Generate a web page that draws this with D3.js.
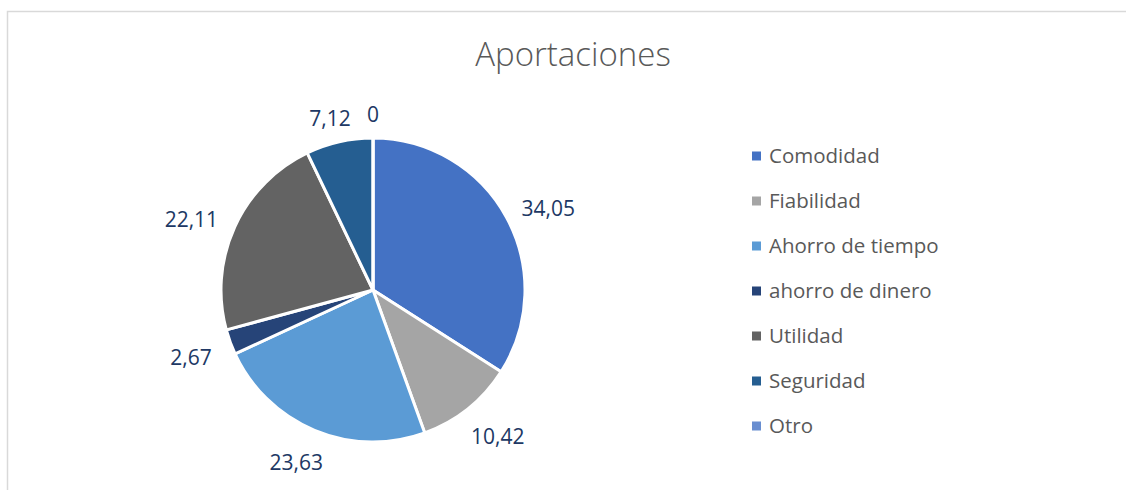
<!DOCTYPE html>
<html>
<head>
<meta charset="utf-8">
<script src="https://cdn.jsdelivr.net/npm/d3@7"></script>
<style>
  body { margin: 0; background: #fff; }
  text { font-family: "Open Sans", sans-serif; }
</style>
</head>
<body>
<svg width="1126" height="490"></svg>
<script>
// data
var categories = ["Comodidad", "Fiabilidad", "Ahorro de tiempo", "ahorro de dinero", "Utilidad", "Seguridad", "Otro"];
var values = [34.05, 10.42, 23.63, 2.67, 22.11, 7.12, 0];
var labels = ["34,05", "10,42", "23,63", "2,67", "22,11", "7,12", "0"];
var colors = ["#4472c4", "#a5a5a5", "#5b9bd5", "#264478", "#636363", "#255e91", "#698ed0"];

var data = categories.map(function(c, i) {
  return {name: c, value: values[i], label: labels[i], color: colors[i]};
});

var svg = d3.select("svg");

// chart frame
svg.append("path")
  .attr("d", "M7.5,500 L7.5,11.5 L1130,11.5")
  .attr("fill", "none")
  .attr("stroke", "#d9d9d9")
  .attr("stroke-width", 1.5);

// title
svg.append("text")
  .attr("x", 573)
  .attr("y", 66)
  .attr("text-anchor", "middle")
  .attr("font-size", 33)
  .attr("font-weight", 300)
  .attr("fill", "#595959")
  .text("Aportaciones");

var cx = 373, cy = 290, radius = 152;

var pie = d3.pie().sort(null).value(function(d) { return d.value; });
var arc = d3.arc().innerRadius(0).outerRadius(radius);

var g = svg.append("g")
  .attr("transform", "translate(" + cx + "," + cy + ")");

var arcs = pie(data);

g.selectAll(".slice")
  .data(arcs)
  .enter().append("path")
  .attr("class", "slice")
  .attr("d", arc)
  .attr("fill", function(d) { return d.data.color; })
  .attr("stroke", "#fff")
  .attr("stroke-width", 3)
  .attr("stroke-linejoin", "round");

// data labels, outside end
var gap = 21, halfH = 8;
g.selectAll(".lbl")
  .data(arcs)
  .enter().append("text")
  .attr("class", "lbl")
  .attr("font-size", 21)
  .attr("fill", "#203864")
  .attr("text-anchor", "middle")
  .attr("dy", "0.6em")
  .text(function(d) { return d.data.label; })
  .each(function(d) {
    var a = (d.startAngle + d.endAngle) / 2;
    var dx = Math.sin(a), dy = -Math.cos(a);
    var w = this.getComputedTextLength();
    var px = dx * (radius + gap) + dx * w / 2;
    var py = dy * (radius + gap) + dy * halfH;
    d3.select(this).attr("x", px).attr("y", py);
  });

// legend
var legend = svg.append("g")
  .attr("transform", "translate(752,156)");

var item = legend.selectAll(".item")
  .data(data)
  .enter().append("g")
  .attr("class", "item")
  .attr("transform", function(d, i) { return "translate(0," + (i * 45) + ")"; });

item.append("rect")
  .attr("x", 0)
  .attr("y", -4.5)
  .attr("width", 9)
  .attr("height", 9)
  .attr("fill", function(d) { return d.color; });

item.append("text")
  .attr("x", 17)
  .attr("dy", "0.35em")
  .attr("font-size", 20.5)
  .attr("fill", "#595959")
  .text(function(d) { return d.name; });
</script>
</body>
</html>
